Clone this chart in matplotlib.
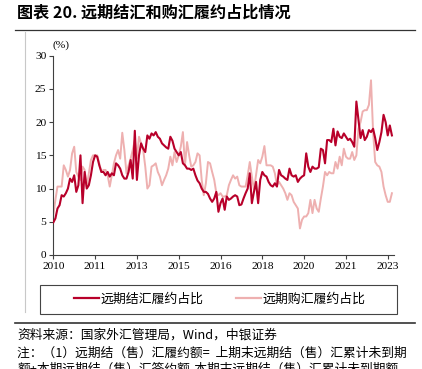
import matplotlib
matplotlib.use("Agg")
import matplotlib.pyplot as plt
from matplotlib.lines import Line2D
from matplotlib.patches import Rectangle

plt.rcParams['font.family'] = ['Noto Sans CJK SC', 'DejaVu Sans']

# monthly data, 2010-01 .. 2023-07 (index positions on a category axis)
settle_ratio = [
    4.9, 5.5, 7.0, 7.5, 9.0, 8.8, 9.3, 10.0, 11.5, 11.0,
    12.0, 9.5, 10.5, 15.0, 7.8, 12.5, 10.0, 10.5, 12.0, 14.0,
    15.0, 14.8, 13.5, 12.5, 12.5, 12.0, 12.5, 11.8, 12.3, 12.0,
    13.8, 13.5, 13.0, 12.0, 11.5, 11.5, 12.5, 14.3, 11.5, 18.7,
    11.3, 15.0, 16.8, 16.0, 15.5, 18.0, 17.5, 18.3, 18.0, 18.5,
    17.8, 17.5, 16.8, 16.5, 16.2, 16.0, 17.8, 17.2, 16.0, 15.5,
    15.0, 15.5, 13.8, 13.5, 13.0, 13.0, 12.8, 13.0, 12.0, 11.2,
    10.8, 10.0, 9.5, 9.5, 9.2, 8.5, 8.0, 8.5, 9.5, 6.5,
    7.8, 8.5, 6.8, 8.8, 8.3, 8.5, 8.8, 9.0, 8.8, 7.5,
    7.6, 8.5, 9.3, 10.0, 12.3, 7.8, 9.5, 11.0, 7.8, 11.3,
    12.5, 12.0, 11.8, 11.0, 10.5, 10.3, 10.8, 10.3, 12.8, 12.0,
    11.8, 11.5, 11.3, 13.0, 12.0, 11.8, 12.0, 11.0, 11.5, 11.8,
    12.0, 15.3, 13.3, 12.5, 13.3, 13.0, 13.0, 13.2, 16.0, 15.8,
    13.8, 17.3, 17.3, 17.0, 19.0, 16.5, 18.6, 17.8, 17.6, 18.3,
    17.8, 17.3, 17.5, 17.0, 16.3, 23.1, 20.3, 17.6, 18.8, 17.3,
    17.8, 18.8, 18.5, 19.0, 17.6, 15.8, 17.0, 18.5, 21.1, 20.0,
    18.0, 19.5, 18.0,
]
purchase_ratio = [
    6.0, 8.3, 10.3, 10.3, 10.3, 13.5, 12.8, 11.8, 12.8, 15.3,
    16.3, 12.5, 11.8, 11.3, 13.3, 12.8, 10.3, 12.3, 14.3, 15.0,
    15.0, 15.0, 13.8, 12.5, 12.8, 12.8, 12.0, 10.3, 12.0, 13.8,
    15.0, 15.8, 14.5, 18.4, 15.8, 12.3, 13.5, 14.5, 15.8, 17.3,
    14.5, 17.8, 16.8, 15.8, 13.3, 10.0, 10.5, 13.3, 13.5, 13.8,
    12.5, 11.8, 10.5, 11.3, 12.0, 13.0, 14.8, 13.5, 15.5, 14.0,
    15.0, 16.3, 18.5, 13.5, 17.0, 15.0, 13.3, 13.5, 14.0, 15.3,
    15.0, 11.3, 9.0, 10.8, 14.0, 13.8, 12.5, 11.3, 9.3, 9.0,
    9.3, 8.8, 8.8, 9.0, 10.5, 11.3, 12.0, 11.5, 11.8, 10.5,
    10.3, 10.3, 10.3, 12.0, 14.0, 11.8, 9.8, 12.0, 14.3, 13.8,
    14.8, 16.4, 13.5, 13.5, 13.5, 13.3, 12.3, 10.5, 11.0, 10.5,
    10.0, 9.3, 8.3, 9.3, 9.0, 8.0, 7.5, 7.0, 4.0, 5.3,
    5.8, 5.8, 6.3, 8.3, 6.3, 8.3, 7.0, 6.5, 8.5, 10.3,
    12.5, 12.0, 12.5, 12.3, 12.3, 14.0, 13.0, 14.8, 13.5, 16.0,
    14.8, 14.5, 14.5, 15.5, 14.3, 15.0, 19.0, 20.0, 21.6, 21.8,
    21.8, 22.6, 26.3, 18.5, 14.0, 13.5, 13.3, 12.5, 10.3, 9.0,
    8.0, 8.0, 9.3,
]
tick_pos = [0, 20, 40, 60, 80, 100, 120, 140, 160]
tick_labels = ['2010', '2011', '2013', '2015', '2016', '2018', '2020', '2021', '2023']
y_ticks = [0, 5, 10, 15, 20, 25, 30]
series_names = ['远期结汇履约占比', '远期购汇履约占比']

RED = '#B8002A'
PINK = '#EEB0B0'
SERIF = 'Liberation Serif'

W, H = 422, 369
fig = plt.figure(figsize=(W / 100, H / 100), dpi=100)

ax = fig.add_axes([53.3 / W, 1 - 255 / H, (394 - 53.3) / W, (255 - 55.7) / H])
ax.plot(list(range(len(purchase_ratio))), purchase_ratio, color=PINK, lw=1.4, zorder=2)
ax.plot(list(range(len(settle_ratio))), settle_ratio, color=RED, lw=1.5, zorder=3)
ax.set_xlim(0, 163)
ax.set_ylim(0, 30)
ax.set_xticks(tick_pos)
ax.set_xticklabels(tick_labels)
ax.set_yticks(y_ticks)
for s in ['top', 'right']:
    ax.spines[s].set_visible(False)
for s in ['left', 'bottom']:
    ax.spines[s].set_color('#404040')
    ax.spines[s].set_linewidth(0.8)
ax.tick_params(axis='both', direction='out', length=3, width=0.8, color='#404040',
               labelsize=8.2, pad=2, labelfontfamily=SERIF)
ax.text(-0.5, 30.9, '(%)', fontsize=8.2, family=SERIF, ha='left', va='bottom')

# title
fig.text(17 / W, 1 - 13 / H, '图表 20. 远期结汇和购汇履约占比情况', fontsize=11.6,
         fontweight='bold', ha='left', va='center')
fig.add_artist(Line2D([15 / W, 415 / W], [1 - 29.5 / H] * 2, color='#333333', lw=0.9))
# left guide line
fig.add_artist(Line2D([25 / W, 25 / W], [1 - 32 / H, 1 - 312 / H], color='#C8C8C8', lw=0.8))

# legend
fig.add_artist(Rectangle((40 / W, 1 - 314 / H), 357 / W, 29 / H, transform=fig.transFigure,
                         fill=False, edgecolor='#444444', lw=0.8))
handles = [Line2D([], [], color=RED, lw=1.6), Line2D([], [], color=PINK, lw=1.6)]
fig.legend(handles, series_names, loc='center', bbox_to_anchor=(220 / W, 1 - 299.5 / H),
           frameon=False, ncol=2, fontsize=9.3, handlelength=1.9, handletextpad=0.15,
           columnspacing=2.5)

fig.add_artist(Line2D([15 / W, 415 / W], [1 - 322.7 / H] * 2, color='#333333', lw=1.2))
fig.text(17 / W, 1 - 335 / H, '资料来源：国家外汇管理局，Wind，中银证券', fontsize=9.2,
         ha='left', va='center')
fig.text(17 / W, 1 - 353 / H, '注：（1）远期结（售）汇履约额=  上期末远期结（售）汇累计未到期',
         fontsize=9.2, ha='left', va='center')
fig.text(17 / W, 1 - 369.5 / H, '额+本期远期结（售）汇签约额-本期末远期结（售）汇累计未到期额',
         fontsize=9.2, ha='left', va='center')

fig.savefig('out.png', dpi=100)
